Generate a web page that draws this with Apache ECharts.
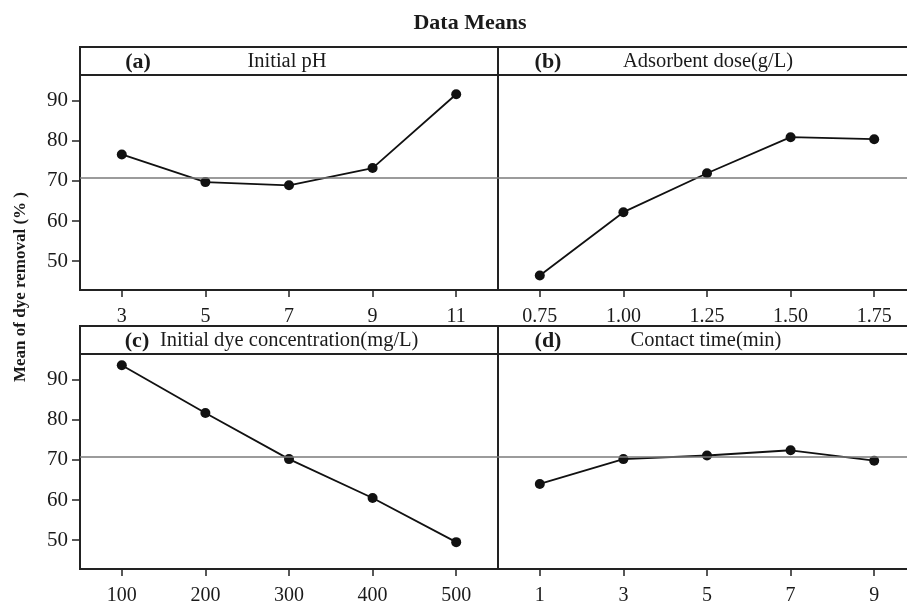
<!DOCTYPE html>
<html>
<head>
<meta charset="utf-8">
<script src="https://cdn.jsdelivr.net/npm/echarts@6/dist/echarts.min.js"></script>
<style>html,body{margin:0;padding:0;background:#fff;}#c{width:907px;height:603px;}</style>
</head>
<body>
<div id="c"></div>
<script>
// ---- data ----
var xPH = [3, 5, 7, 9, 11];
var yPH = [76.6, 69.7, 68.9, 73.2, 91.6];
var xDose = [0.75, 1.00, 1.25, 1.50, 1.75];
var yDose = [46.4, 62.2, 71.9, 80.9, 80.4];
var xConc = [100, 200, 300, 400, 500];
var yConc = [93.6, 81.7, 70.2, 60.5, 49.5];
var xTime = [1, 3, 5, 7, 9];
var yTime = [64.0, 70.2, 71.1, 72.4, 69.8];
var yTicks = [50, 60, 70, 80, 90];
var grandMean = [70.9];
var panelTags = ['(a)', '(b)', '(c)', '(d)'];
var panelTitles = ['Initial pH', 'Adsorbent dose(g/L)', 'Initial dye concentration(mg/L)', 'Contact time(min)'];
var mainTitle = 'Data Means';
var yTitle = 'Mean of dye removal (% )';

var FONT = 'Liberation Serif';
var INK = '#1a1a1a';

function pairs(xs, ys){ return xs.map(function(x,i){ return [x, ys[i]]; }); }

var L = 80, MID = 498, W = 418;
var TOP1 = 75, TOP2 = 354, H = 215, STRIP = 28;

var grids = [
  {left: L, top: TOP1, width: W, height: H},
  {left: MID, top: TOP1, width: W, height: H},
  {left: L, top: TOP2, width: W, height: H},
  {left: MID, top: TOP2, width: W, height: H}
].map(function(g){
  g.show = true; g.borderColor = '#222'; g.borderWidth = 2; g.backgroundColor = 'transparent';
  g.containLabel = false; g.outerBoundsMode = 'none';
  return g;
});

var xRanges = [[2, 12], [0.625, 1.875], [50, 550], [0, 10]];
var xTickVals = [xPH, xDose, xConc, xTime];
var xFmt = [
  function(v){ return String(v); },
  function(v){ return Number(v).toFixed(2); },
  function(v){ return String(v); },
  function(v){ return String(v); }
];

var xAxes = xRanges.map(function(r, i){
  return {
    type: 'value', gridIndex: i, min: r[0], max: r[1],
    axisLine: {show: false},
    splitLine: {show: false},
    axisTick: {show: true, length: 7, lineStyle: {color: '#222', width: 1.5}, customValues: xTickVals[i]},
    axisLabel: {show: true, margin: 17, fontFamily: FONT, fontSize: 20, color: INK, customValues: xTickVals[i], formatter: xFmt[i]}
  };
});

var yAxes = [0,1,2,3].map(function(i){
  var left = (i % 2 === 0);
  return {
    type: 'value', gridIndex: i, min: 42.8, max: 96.4,
    axisLine: {show: false},
    splitLine: {show: false},
    axisTick: {show: left, length: 8, lineStyle: {color: '#222', width: 1.5}, customValues: yTicks},
    axisLabel: {show: left, margin: 12, fontFamily: FONT, fontSize: 21, color: INK, customValues: yTicks}
  };
});

var datasets = [pairs(xPH, yPH), pairs(xDose, yDose), pairs(xConc, yConc), pairs(xTime, yTime)];
var series = datasets.map(function(d, i){
  return {
    type: 'line', xAxisIndex: i, yAxisIndex: i, data: d,
    symbol: 'circle', symbolSize: 10,
    itemStyle: {color: '#111'},
    lineStyle: {color: '#111', width: 1.8},
    silent: true, animation: false,
    markLine: {
      silent: true, symbol: 'none', animation: false,
      label: {show: false},
      lineStyle: {color: '#7a7a7a', width: 1.6, type: 'solid'},
      data: [{yAxis: grandMean[0]}]
    }
  };
});

var graphics = [];
var stripPos = [[L, TOP1 - STRIP], [MID, TOP1 - STRIP], [L, TOP2 - STRIP], [MID, TOP2 - STRIP]];
stripPos.forEach(function(p){
  graphics.push({type: 'rect', shape: {x: p[0], y: p[1], width: W, height: STRIP},
    style: {fill: '#fff', stroke: '#222', lineWidth: 2}, silent: true});
});
var tagX = [138, 548, 137, 548];
var titleX = [287, 708, 160, 706];
var titleAlign = ['center', 'center', 'left', 'center'];
stripPos.forEach(function(p, i){
  var cy = p[1] + STRIP / 2 + 1;
  graphics.push({type: 'text', x: tagX[i], y: cy, silent: true,
    style: {text: panelTags[i], font: 'bold 22px "' + FONT + '"', fill: INK, textAlign: 'center', textVerticalAlign: 'middle'}});
  graphics.push({type: 'text', x: titleX[i], y: cy, silent: true,
    style: {text: panelTitles[i], font: '20.5px "' + FONT + '"', fill: INK, textAlign: titleAlign[i], textVerticalAlign: 'middle'}});
});
graphics.push({type: 'text', x: 470, y: 23, silent: true,
  style: {text: mainTitle, font: 'bold 22px "' + FONT + '"', fill: INK, textAlign: 'center', textVerticalAlign: 'middle'}});
graphics.push({type: 'text', x: 21, y: 287, rotation: Math.PI / 2, silent: true,
  style: {text: yTitle, font: 'bold 17px "' + FONT + '"', fill: INK, textAlign: 'center', textVerticalAlign: 'middle'}});

var chart = echarts.init(document.getElementById('c'), null, {renderer: 'canvas'});
chart.setOption({
  backgroundColor: '#fff',
  animation: false,
  grid: grids,
  xAxis: xAxes,
  yAxis: yAxes,
  series: series,
  graphic: {elements: graphics}
});
</script>
</body>
</html>
